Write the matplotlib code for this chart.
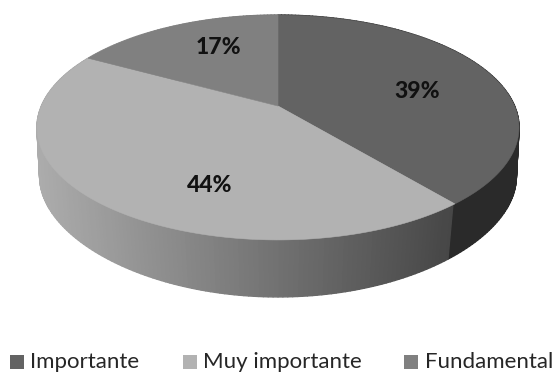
import numpy as np
import matplotlib
matplotlib.use("Agg")
import matplotlib.pyplot as plt
from matplotlib.collections import PolyCollection
from matplotlib.patches import Polygon, Rectangle

categories = ["Importante", "Muy importante", "Fundamental"]
values = [39, 44, 17]
labels = ["39%", "44%", "17%"]
colors = ["#636363", "#b2b2b2", "#808080"]
label_pos = [(417, 91), (210, 185), (218, 47)]
legend_swatch_x = [10, 183, 404]
legend_text_x = [30, 203, 425]

W, H = 556, 373
CX, CY = 278, 106
P, AY, AX = -0.191, 88.1, 236.6


def project(theta):
    """theta: clockwise from 12 o'clock (radians) -> pixel coordinates."""
    u, v = np.sin(theta), -np.cos(theta)
    d = 1 + P * v
    return CX + AX * u / d, (CY + AY * v) / d


def project_bottom(theta):
    x, y = project(theta)
    v = -np.cos(theta)
    return CX + (x - CX) * (0.99 - 0.03 * v * v), y + 50 + 7 * v * v


def side_color(x, theta):
    if theta < edges[1]:
        return "#2a2a2a"
    t = np.clip((x - 37) / (454 - 37), 0, 1)
    g = 172 + (70 - 172) * t
    return (g / 255, g / 255, g / 255)


fig = plt.figure(figsize=(W / 100, H / 100), dpi=100)
ax = fig.add_axes([0, 0, 1, 1])
ax.set_xlim(0, W)
ax.set_ylim(H, 0)
ax.axis("off")

edges = 2 * np.pi * np.concatenate([[0], np.cumsum(values)]) / sum(values)

# side wall
th = np.linspace(0, 2 * np.pi, 361)
xs, ys = project(th)
xb, yb = project_bottom(th)
polys, cols = [], []
for i in range(len(th) - 1):
    polys.append([(xs[i], ys[i]), (xs[i + 1], ys[i + 1]),
                  (xb[i + 1], yb[i + 1]), (xb[i], yb[i])])
    cols.append(side_color((xs[i] + xs[i + 1]) / 2, th[i]))
ax.add_collection(PolyCollection(polys, facecolors=cols, edgecolors=cols, linewidths=1.0, zorder=1))

# top face
for k, c in enumerate(colors):
    t = np.linspace(edges[k], edges[k + 1], 200)
    x, y = project(t)
    pts = np.column_stack([np.r_[CX, x], np.r_[CY, y]])
    ax.add_patch(Polygon(pts, closed=True, facecolor=c, edgecolor=c, linewidth=0.4, zorder=2))

for s, (x, y) in zip(labels, label_pos):
    ax.text(x, y, s, ha="center", va="center", fontsize=16.5, fontweight="black",
            family="Lato", color="#111111", zorder=3)

for name, c, sx, tx in zip(categories, colors, legend_swatch_x, legend_text_x):
    ax.add_patch(Rectangle((sx, 355), 14, 14, facecolor=c, edgecolor="none", zorder=3))
    ax.text(tx, 362, name, ha="left", va="center", fontsize=16, family="Lato",
            color="#262626", zorder=3)

fig.savefig("out.png", dpi=100)
